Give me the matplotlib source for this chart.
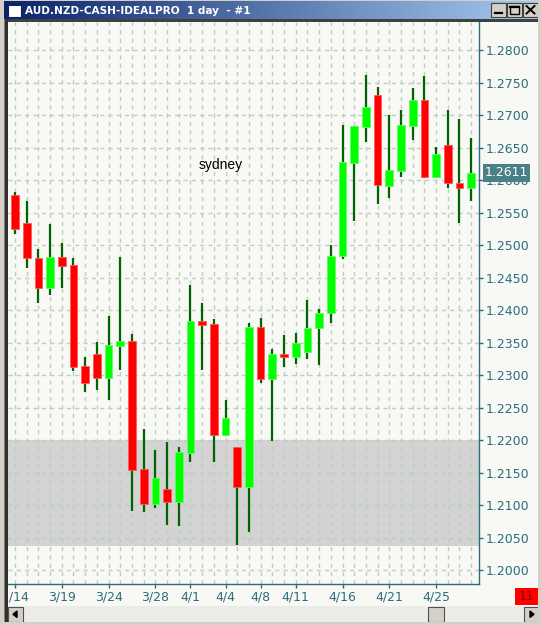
import numpy as np
import matplotlib
matplotlib.use("Agg")
import matplotlib.pyplot as plt
from matplotlib.patches import Rectangle
from matplotlib.colors import LinearSegmentedColormap
from matplotlib.transforms import Bbox

# ---------------- data ----------------
dates = ["3/14", "3/15", "3/17", "3/18", "3/19", "3/20", "3/21", "3/22",
         "3/24", "3/25", "3/26", "3/27", "3/28", "3/29", "3/31", "4/1",
         "4/2", "4/3", "4/4", "4/5", "4/7", "4/8", "4/9", "4/10",
         "4/11", "4/12", "4/14", "4/15", "4/16", "4/17", "4/18", "4/19",
         "4/21", "4/22", "4/23", "4/24", "4/25", "4/26", "4/28", "4/29"]
opens = [1.2577, 1.2534, 1.2480, 1.2434, 1.2482, 1.2469, 1.2314, 1.2332,
         1.2295, 1.2345, 1.2352, 1.2155, 1.2102, 1.2125, 1.2105, 1.2180,
         1.2383, 1.2379, 1.2208, 1.2189, 1.2128, 1.2374, 1.2294, 1.2332,
         1.2328, 1.2335, 1.2372, 1.2395, 1.2483, 1.2626, 1.2682, 1.2731,
         1.2591, 1.2614, 1.2683, 1.2723, 1.2605, 1.2654, 1.2595, 1.2588]
highs = [1.2582, 1.2568, 1.2494, 1.2532, 1.2503, 1.2480, 1.2328, 1.2351,
         1.2391, 1.2482, 1.2363, 1.2217, 1.2185, 1.2197, 1.2189, 1.2438,
         1.2411, 1.2386, 1.2262, 1.2189, 1.2380, 1.2388, 1.2340, 1.2362,
         1.2365, 1.2415, 1.2402, 1.2500, 1.2685, 1.2683, 1.2762, 1.2743,
         1.2700, 1.2708, 1.2742, 1.2760, 1.2651, 1.2708, 1.2694, 1.2665]
lows = [1.2517, 1.2465, 1.2411, 1.2423, 1.2434, 1.2306, 1.2274, 1.2277,
        1.2262, 1.2308, 1.2091, 1.2089, 1.2095, 1.2069, 1.2068, 1.2166,
        1.2308, 1.2166, 1.2206, 1.2038, 1.2058, 1.2288, 1.2198, 1.2312,
        1.2317, 1.2325, 1.2315, 1.2380, 1.2479, 1.2537, 1.2659, 1.2563,
        1.2572, 1.2605, 1.2662, 1.2603, 1.2603, 1.2588, 1.2534, 1.2568]
closes = [1.2525, 1.2480, 1.2434, 1.2482, 1.2468, 1.2312, 1.2288, 1.2295,
          1.2346, 1.2352, 1.2154, 1.2102, 1.2142, 1.2105, 1.2182, 1.2383,
          1.2377, 1.2208, 1.2234, 1.2128, 1.2374, 1.2294, 1.2332, 1.2328,
          1.2349, 1.2372, 1.2395, 1.2483, 1.2628, 1.2683, 1.2712, 1.2592,
          1.2615, 1.2685, 1.2723, 1.2605, 1.2640, 1.2595, 1.2588, 1.2611]
label_dates = ["3/14", "3/19", "3/24", "3/28", "4/1", "4/4", "4/8", "4/11",
               "4/16", "4/21", "4/25"]
price_ticks = [1.2000, 1.2050, 1.2100, 1.2150, 1.2200, 1.2250, 1.2300, 1.2350,
               1.2400, 1.2450, 1.2500, 1.2550, 1.2600, 1.2650, 1.2700, 1.2750,
               1.2800]
zone = [1.2037, 1.2200]
last_price = 1.2611
title = "AUD.NZD-CASH-IDEALPRO  1 day  - #1"
note = "sydney"
counter = "11"

# ---------------- styles ----------------
W, H = 541, 625
TEAL = "#2d6d7b"
BOXC = "#4a8087"
BG = "#f8f8f5"
WIN = "#d4d0c8"
GRID = "#bccfbc"

fig = plt.figure(figsize=(W / 100, H / 100), dpi=100)
fig.patch.set_facecolor(WIN)

# background / window chrome axes in pixel coordinates
bg = fig.add_axes([0, 0, 1, 1], zorder=0)
bg.set_axis_off()
grad = np.linspace(0, 1, 256)[None, :]
cmap = LinearSegmentedColormap.from_list("tb", ["#0a246a", "#a6caf0"])
bg.imshow(grad, extent=[3, 538, 19, 1], cmap=cmap, aspect="auto", interpolation="bilinear")
bg.set_xlim(0, W)
bg.set_ylim(H, 0)
bg.add_patch(Rectangle((7, 21), 531, 585, facecolor=BG, edgecolor="none"))
bg.add_patch(Rectangle((3, 19), 535, 2.5, facecolor="#404040", edgecolor="none"))
bg.add_patch(Rectangle((7.5, 3.5), 13, 13, facecolor="white", edgecolor="#0a246a", lw=0.8))
bg.add_patch(Rectangle((7.5, 3.5), 13, 2.5, facecolor="#0a246a", edgecolor="none"))
bg.text(25, 10.5, title, color="white", fontsize=7.6, fontweight="bold",
        family="DejaVu Sans", ha="left", va="center")
for bx in (491, 507, 523):
    bg.add_patch(Rectangle((bx, 3), 15, 13.5, facecolor=WIN, edgecolor="#404040", lw=0.8))
bg.plot([494.5, 501.5], [13, 13], color="black", lw=1.6)
bg.add_patch(Rectangle((510, 6), 8.5, 7.5, facecolor="none", edgecolor="black", lw=1.0))
bg.plot([510, 518.5], [6.5, 6.5], color="black", lw=1.6)
bg.plot([526.5, 534.5], [6, 13.5], color="black", lw=1.4)
bg.plot([526.5, 534.5], [13.5, 6], color="black", lw=1.4)
bg.add_patch(Rectangle((515, 587.5), 24, 17, facecolor="#ff0000", edgecolor="none"))
bg.text(527, 596.5, counter, color="#8a0000", fontsize=9, ha="center", va="center",
        family="DejaVu Sans")
bg.add_patch(Rectangle((7, 606), 532, 16, facecolor="#ebebe7", edgecolor="none"))
bg.add_patch(Rectangle((8, 607), 15, 14.5, facecolor=WIN, edgecolor="#505050", lw=0.8))
bg.add_patch(Rectangle((524, 607), 15, 14.5, facecolor=WIN, edgecolor="#505050", lw=0.8))
bg.add_patch(Rectangle((428, 607), 16, 14.5, facecolor=WIN, edgecolor="#505050", lw=0.8))
bg.add_patch(plt.Polygon([[13, 614.3], [17, 611], [17, 617.5]], color="black"))
bg.add_patch(plt.Polygon([[534, 614.3], [530, 611], [530, 617.5]], color="black"))

# ---------------- main chart ----------------
L, R, T, B = 8, 479, 22, 584
ax = fig.add_axes([L / W, (H - B) / H, (R - L) / W, (B - T) / H], zorder=1)
ax.set_facecolor(BG)
x = np.arange(len(dates))
ax.set_xlim(-0.6, 39.67)
ax.set_ylim(1.19785, 1.28431)

ax.axhspan(zone[0], zone[1], facecolor="#d3d3d3", edgecolor="none", zorder=0.5)

for i in range(len(dates)):
    o, h, l, c = opens[i], highs[i], lows[i], closes[i]
    col = "#00ff00" if c >= o else "#ff0000"
    ecol = "#60ff60" if c >= o else "#ff5a5a"
    ax.vlines(x[i], l, h, color="#006400", lw=1.6, zorder=2)
    bottom = min(o, c)
    height = max(abs(c - o), 0.0004)
    ax.bar(x[i], height, bottom=bottom, width=0.66, color=col, edgecolor=ecol,
           linewidth=0.6, zorder=3)

ax.text(17.6, 1.2623, note, fontsize=10, color="black", ha="center", va="center",
        family="Liberation Sans", zorder=4)

for s in ("left", "top"):
    ax.spines[s].set_visible(False)
for s in ("right", "bottom"):
    ax.spines[s].set_color(TEAL)
    ax.spines[s].set_linewidth(1.0)

ax.yaxis.tick_right()
ax.set_yticks(price_ticks)
ax.set_yticklabels([f"{p:.4f}" for p in price_ticks])
ax.tick_params(axis="y", direction="out", length=3, width=1, colors=TEAL,
               labelsize=9, pad=2)

ax.set_xticks([dates.index(d) for d in label_dates])
ax.set_xticklabels(label_dates)
ax.set_xticks(x, minor=True)
ax.tick_params(axis="x", which="major", direction="out", length=3, width=1,
               colors=TEAL, labelsize=9, pad=2)
ax.tick_params(axis="x", which="minor", length=0)
for lbl in ax.get_yticklabels() + ax.get_xticklabels():
    lbl.set_family("DejaVu Sans")

# the first date label is cut by the window frame, as in the original
first_lbl = ax.get_xticklabels()[0]
first_lbl.set_clip_box(Bbox.from_extents(9, 0, W, H))
first_lbl.set_clip_on(True)

ax.grid(True, which="both", axis="x", color=GRID, linestyle=(0, (3, 3)), lw=1.0, zorder=1)
ax.grid(True, which="major", axis="y", color=GRID, linestyle=(0, (3, 3)), lw=1.0, zorder=1)
ax.set_axisbelow(True)

ax.annotate(f"{last_price:.4f}", xy=(1.0, last_price), xycoords=("axes fraction", "data"),
            xytext=(4.2, 0), textcoords="offset points", color="white", fontsize=9,
            ha="left", va="center", family="DejaVu Sans",
            bbox=dict(boxstyle="square,pad=0.18", facecolor=BOXC, edgecolor="none"),
            zorder=5)

# overlay: left window frame
ov = fig.add_axes([0, 0, 1, 1], zorder=3)
ov.set_axis_off()
ov.patch.set_alpha(0)
ov.set_xlim(0, W)
ov.set_ylim(H, 0)
ov.add_patch(Rectangle((0, 0), 3.5, H, facecolor=WIN, edgecolor="none"))
ov.add_patch(Rectangle((3.5, 19), 1.5, 606, facecolor="#808080", edgecolor="none"))
ov.add_patch(Rectangle((5, 19), 2.5, 606, facecolor="#303030", edgecolor="none"))
ov.add_patch(Rectangle((538, 0), 3, H, facecolor=WIN, edgecolor="none"))
ov.add_patch(Rectangle((0, 622), W, 3, facecolor=WIN, edgecolor="none"))

fig.savefig("out.png", dpi=100, facecolor=fig.get_facecolor())
